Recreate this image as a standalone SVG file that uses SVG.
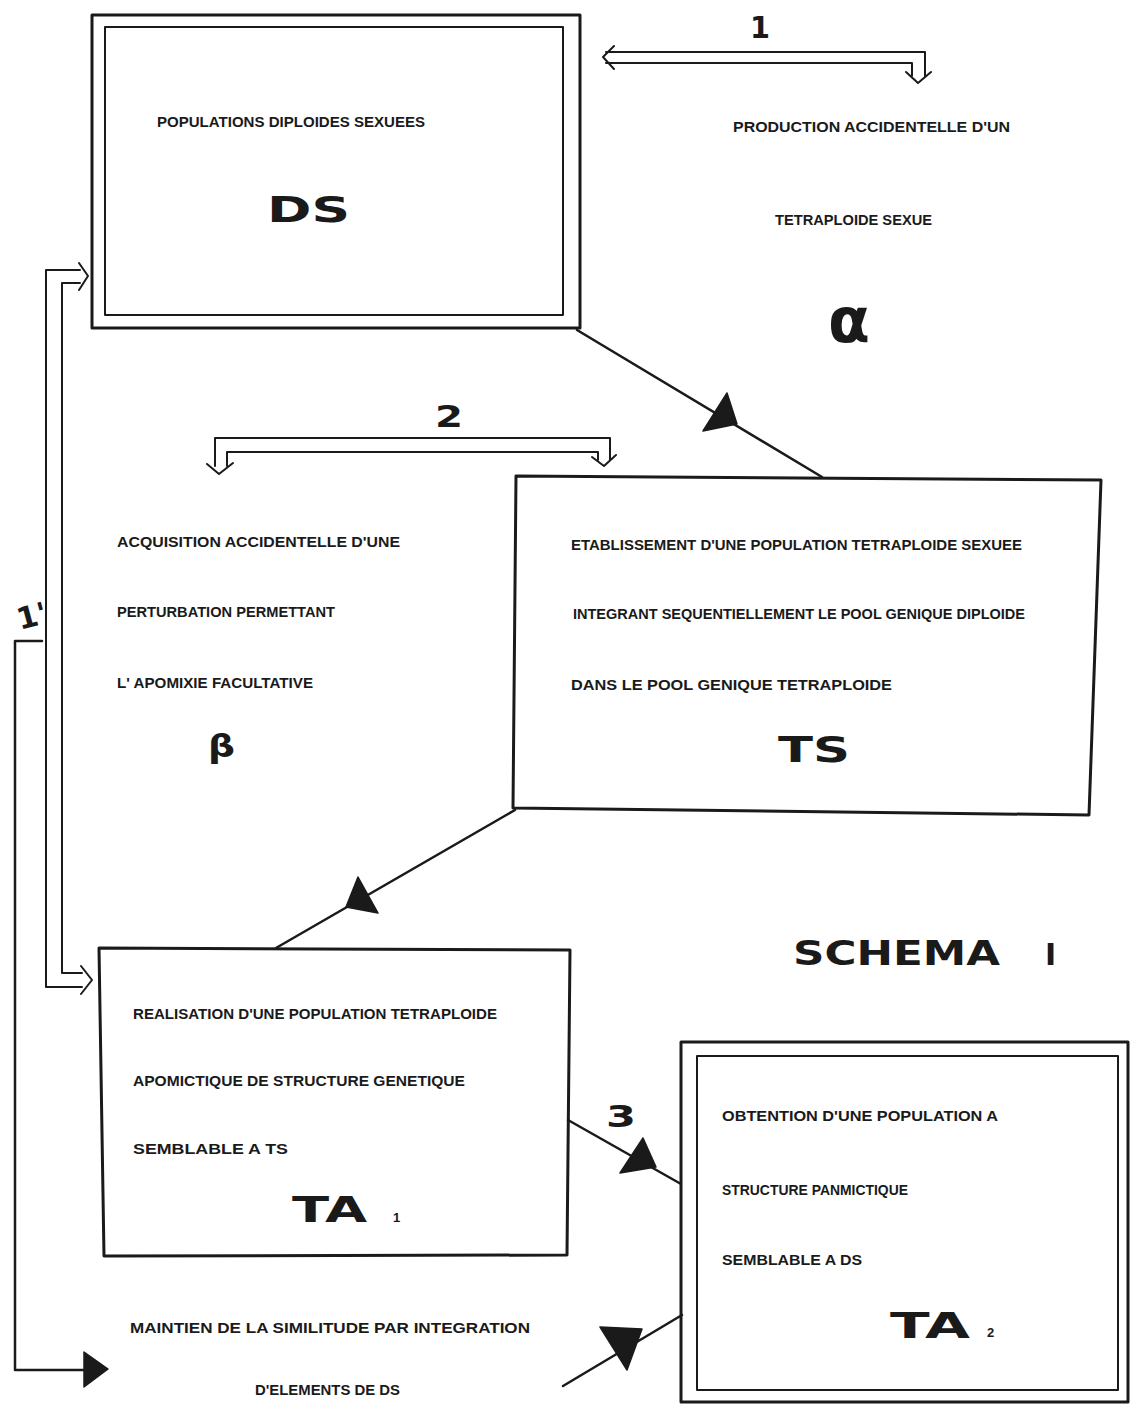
<svg xmlns="http://www.w3.org/2000/svg" width="1130" height="1407" viewBox="0 0 1130 1407">
<defs>
<style>
.bg{fill:#ffffff}
.box{fill:none;stroke:#1a1a1a;stroke-width:3;stroke-linejoin:round}
.boxi{fill:none;stroke:#1a1a1a;stroke-width:2;stroke-linejoin:round}
.ln{fill:none;stroke:#1a1a1a;stroke-width:2.5;stroke-linecap:round;stroke-linejoin:round}
.hl{fill:none;stroke:#1a1a1a;stroke-width:2;stroke-linecap:round;stroke-linejoin:round}
.tri{fill:#1a1a1a;stroke:#1a1a1a;stroke-width:1.5;stroke-linejoin:round}
.t{font-family:"Liberation Sans",Arial,sans-serif;font-weight:bold;font-size:15px;fill:#1a1a1a}
.big{font-family:"DejaVu Sans","Liberation Sans",sans-serif;font-weight:bold;font-size:36px;fill:#1a1a1a}
.num{font-family:"DejaVu Sans","Liberation Sans",sans-serif;font-weight:bold;font-size:30px;fill:#1a1a1a}
.sub{font-family:"Liberation Sans",Arial,sans-serif;font-weight:bold;font-size:13px;fill:#1a1a1a}
</style>
</defs>
<rect class="bg" x="0" y="0" width="1130" height="1407"/>

<g id="connectors">
  <!-- DS -> TS -->
  <line class="ln" x1="577" y1="330" x2="822" y2="477"/>
  <polygon class="tri" points="727,393 703,431 737,424"/>
  <!-- TS -> TA1 -->
  <line class="ln" x1="515" y1="810" x2="276" y2="948"/>
  <polygon class="tri" points="358,877 346,907 378,913"/>
  <!-- TA1 -> TA2 (3) -->
  <line class="ln" x1="568" y1="1120" x2="681" y2="1184"/>
  <polygon class="tri" points="643,1138 620,1173 656,1167"/>
  <!-- bottom -> TA2 -->
  <line class="ln" x1="563" y1="1386" x2="682" y2="1315"/>
  <polygon class="tri" points="600,1327 642,1329 627,1370"/>
  <!-- arrow 1 (double) -->
  <path class="hl" d="M 614,46 L 603,57 L 614,69 M 606,52 H 925 V 76 M 606,63 H 912 V 76 M 906,72 L 918,83 L 931,72"/>
  <!-- arrow 2 (double) -->
  <path class="hl" d="M 215,466 V 438 H 610 V 460 M 227,466 V 452 H 598 V 460 M 207,464 L 219,474 L 233,463 M 592,457 L 604,466 L 616,455"/>
  <!-- arrow 1' (double) -->
  <path class="hl" d="M 80,270 H 46 V 987 H 82 M 80,283 H 62 V 973 H 82 M 79,263 L 88,276 L 79,290 M 81,966 L 92,980 L 81,994"/>
  <!-- single line from 1' to bottom text -->
  <path class="ln" d="M 42,641 H 15 V 1370 H 86"/>
  <polygon class="tri" points="84,1352 108,1369 84,1387"/>
</g>

<g id="node-DS">
  <rect class="box" x="92" y="15" width="488" height="313"/>
  <rect class="boxi" x="105" y="27" width="458" height="288"/>
  <text class="t" x="157" y="127" textLength="268" lengthAdjust="spacingAndGlyphs">POPULATIONS DIPLOIDES SEXUEES</text>
  <text class="big" x="267" y="222" textLength="83" lengthAdjust="spacingAndGlyphs">DS</text>
</g>

<g id="node-alpha">
  <text class="t" x="733" y="132" textLength="277" lengthAdjust="spacingAndGlyphs">PRODUCTION ACCIDENTELLE D'UN</text>
  <text class="t" x="775" y="225" textLength="157" lengthAdjust="spacingAndGlyphs">TETRAPLOIDE SEXUE</text>
  <text class="big" x="828" y="342" style="font-size:62px" textLength="42" lengthAdjust="spacingAndGlyphs">α</text>
</g>

<g id="node-beta">
  <text class="t" x="117" y="547" textLength="283" lengthAdjust="spacingAndGlyphs">ACQUISITION ACCIDENTELLE D'UNE</text>
  <text class="t" x="117" y="617" textLength="218" lengthAdjust="spacingAndGlyphs">PERTURBATION PERMETTANT</text>
  <text class="t" x="117" y="688" textLength="196" lengthAdjust="spacingAndGlyphs">L' APOMIXIE FACULTATIVE</text>
  <text class="big" x="208" y="757" style="font-size:32px" textLength="27" lengthAdjust="spacingAndGlyphs">β</text>
</g>

<g id="node-TS">
  <polygon class="box" points="516,476 1101,480 1089,815 513,808"/>
  <text class="t" x="571" y="550" textLength="451" lengthAdjust="spacingAndGlyphs">ETABLISSEMENT D'UNE POPULATION TETRAPLOIDE SEXUEE</text>
  <text class="t" x="573" y="619" textLength="452" lengthAdjust="spacingAndGlyphs">INTEGRANT SEQUENTIELLEMENT LE POOL GENIQUE DIPLOIDE</text>
  <text class="t" x="571" y="690" textLength="321" lengthAdjust="spacingAndGlyphs">DANS LE POOL GENIQUE TETRAPLOIDE</text>
  <text class="big" x="778" y="762" textLength="72" lengthAdjust="spacingAndGlyphs">TS</text>
</g>

<g id="node-TA1">
  <polygon class="box" points="99,948 570,950 567,1255 104,1256"/>
  <text class="t" x="133" y="1019" textLength="364" lengthAdjust="spacingAndGlyphs">REALISATION D'UNE POPULATION TETRAPLOIDE</text>
  <text class="t" x="133" y="1086" textLength="332" lengthAdjust="spacingAndGlyphs">APOMICTIQUE DE STRUCTURE GENETIQUE</text>
  <text class="t" x="133" y="1154" textLength="155" lengthAdjust="spacingAndGlyphs">SEMBLABLE A TS</text>
  <text class="big" x="292" y="1222" textLength="75" lengthAdjust="spacingAndGlyphs">TA</text>
  <text class="sub" x="393" y="1222">1</text>
</g>

<g id="node-TA2">
  <rect class="box" x="681" y="1042" width="447" height="360"/>
  <rect class="boxi" x="697" y="1056" width="421" height="334"/>
  <text class="t" x="722" y="1121" textLength="276" lengthAdjust="spacingAndGlyphs">OBTENTION D'UNE POPULATION A</text>
  <text class="t" x="722" y="1195" textLength="186" lengthAdjust="spacingAndGlyphs">STRUCTURE PANMICTIQUE</text>
  <text class="t" x="722" y="1265" textLength="140" lengthAdjust="spacingAndGlyphs">SEMBLABLE A DS</text>
  <text class="big" x="890" y="1338" textLength="80" lengthAdjust="spacingAndGlyphs">TA</text>
  <text class="sub" x="987" y="1337">2</text>
</g>

<g id="node-bottom">
  <text class="t" x="130" y="1333" textLength="400" lengthAdjust="spacingAndGlyphs">MAINTIEN DE LA SIMILITUDE PAR INTEGRATION</text>
  <text class="t" x="255" y="1395" textLength="145" lengthAdjust="spacingAndGlyphs">D'ELEMENTS DE DS</text>
</g>

<g id="labels">
  <text class="num" x="750" y="38" textLength="20" lengthAdjust="spacingAndGlyphs">1</text>
  <text class="num" x="435" y="427" textLength="28" lengthAdjust="spacingAndGlyphs">2</text>
  <text class="num" x="606" y="1127" textLength="30" lengthAdjust="spacingAndGlyphs">3</text>
  <text class="num" transform="translate(20,630) rotate(-15)">1'</text>
  <text class="big" x="793" y="965" style="font-size:34px" textLength="207" lengthAdjust="spacingAndGlyphs">SCHEMA</text>
  <text class="big" x="1045" y="965" style="font-size:30px">I</text>
</g>
</svg>
